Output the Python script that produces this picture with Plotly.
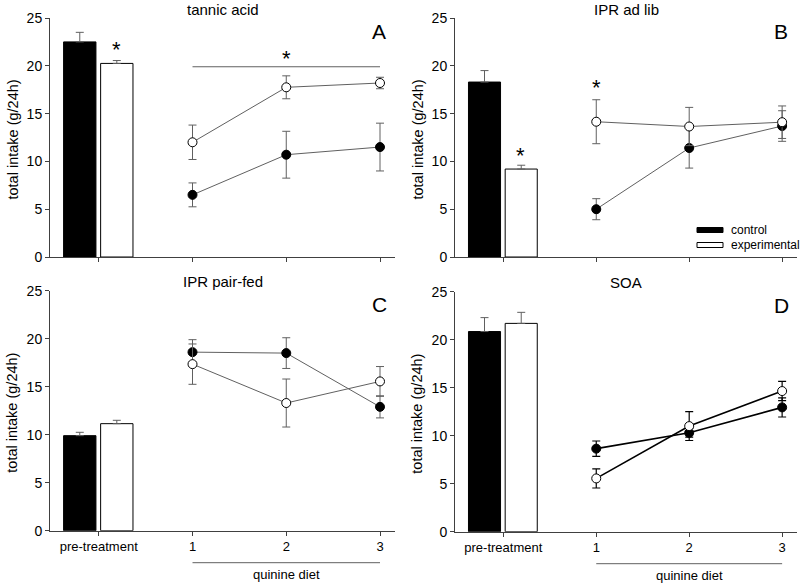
import plotly.graph_objects as go

# ---------------- data ----------------
tick_labels = ["pre-treatment", "1", "2", "3"]
tick_pos = [0, 1, 2, 3]
days = [1, 2, 3]

panel_titles = ["tannic acid", "IPR ad lib", "IPR pair-fed", "SOA"]
panel_letters = ["A", "B", "C", "D"]

# pre-treatment bars (mean, SEM)
ctrl_pre = [22.5, 18.3, 9.9, 20.85]
ctrl_pre_err = [1.0, 1.2, 0.35, 1.45]
exp_pre = [20.25, 9.2, 11.15, 21.7]
exp_pre_err = [0.3, 0.4, 0.35, 1.15]

# quinine diet days (mean, SEM)
ctrl_A = [6.5, 10.7, 11.5]
ctrl_A_err = [1.25, 2.45, 2.5]
exp_A = [12.0, 17.75, 18.2]
exp_A_err = [1.8, 1.2, 0.6]

ctrl_B = [5.0, 11.4, 13.7]
ctrl_B_err = [1.1, 2.1, 1.6]
exp_B = [14.15, 13.65, 14.1]
exp_B_err = [2.3, 2.0, 1.7]

ctrl_C = [18.6, 18.5, 12.9]
ctrl_C_err = [1.3, 1.6, 1.15]
exp_C = [17.35, 13.3, 15.55]
exp_C_err = [2.1, 2.5, 1.55]

ctrl_D = [8.65, 10.3, 12.95]
ctrl_D_err = [0.8, 0.45, 1.0]
exp_D = [5.55, 11.0, 14.65]
exp_D_err = [1.0, 1.5, 1.0]

ctrl_days = [ctrl_A, ctrl_B, ctrl_C, ctrl_D]
ctrl_days_err = [ctrl_A_err, ctrl_B_err, ctrl_C_err, ctrl_D_err]
exp_days = [exp_A, exp_B, exp_C, exp_D]
exp_days_err = [exp_A_err, exp_B_err, exp_C_err, exp_D_err]

# significance markers: (panel index, x, y)
sig_stars = [(0, 0.19, 21.97), (0, 2, 21.1), (1, 0.19, 10.9), (1, 1, 18.0)]
sig_line_A = (1, 3, 19.9)

# ---------------- layout geometry ----------------
W, H = 800, 583
FONT = "Liberation Sans, Arial, sans-serif"
AX = "#404040"
LINE_GREY = "#606060"

# pixel boxes: (x0, x1, ytop, ybottom)
boxes = [(50, 395, 18, 257), (455, 797, 18, 257),
         (50, 395, 290.7, 530.7), (455, 797, 291.7, 531.7)]

fig = go.Figure()

for i in range(4):
    xa = "x" if i == 0 else f"x{i+1}"
    ya = "y" if i == 0 else f"y{i+1}"
    line_col = "black" if i == 3 else LINE_GREY
    line_w = 1.6 if i == 3 else 1
    # bars
    fig.add_trace(go.Bar(x=[0], y=[ctrl_pre[i]], width=0.345, offset=-0.375,
                         marker=dict(color="black", line=dict(color="black", width=1)),
                         error_y=dict(type="data", array=[ctrl_pre_err[i]], arrayminus=[0],
                                      symmetric=False, color=LINE_GREY, thickness=1, width=4),
                         showlegend=False, xaxis=xa, yaxis=ya))
    fig.add_trace(go.Bar(x=[0], y=[exp_pre[i]], width=0.345, offset=0.02,
                         marker=dict(color="white", line=dict(color="black", width=1)),
                         error_y=dict(type="data", array=[exp_pre_err[i]], arrayminus=[0],
                                      symmetric=False, color=LINE_GREY, thickness=1, width=4),
                         showlegend=False, xaxis=xa, yaxis=ya))
    # lines
    fig.add_trace(go.Scatter(x=days, y=ctrl_days[i], mode="lines+markers",
                             line=dict(color=line_col, width=line_w),
                             marker=dict(symbol="circle", size=9, color="black",
                                         line=dict(color="black", width=1)),
                             error_y=dict(type="data", array=ctrl_days_err[i], color=line_col,
                                          thickness=1.2 if i == 3 else 1, width=4),
                             showlegend=False, xaxis=xa, yaxis=ya))
    fig.add_trace(go.Scatter(x=days, y=exp_days[i], mode="lines+markers",
                             line=dict(color=line_col, width=line_w),
                             marker=dict(symbol="circle", size=9, color="white",
                                         line=dict(color="black", width=1)),
                             error_y=dict(type="data", array=exp_days_err[i], color=line_col,
                                          thickness=1.2 if i == 3 else 1, width=4),
                             showlegend=False, xaxis=xa, yaxis=ya))

layout = dict(width=W, height=H, margin=dict(l=0, r=0, t=0, b=0, pad=0, autoexpand=False),
              paper_bgcolor="white", plot_bgcolor="white", template="none",
              font=dict(family=FONT, color="black", size=13),
              barmode="overlay", showlegend=False)

annotations = []
shapes = []
for i, (x0, x1, yt, yb) in enumerate(boxes):
    sfx = "" if i == 0 else str(i + 1)
    show_labels = i >= 2
    layout["xaxis" + sfx] = dict(domain=[x0 / W, x1 / W], range=[-0.52, 3.16],
                                 anchor="y" + sfx, showline=True, linecolor=AX, linewidth=1,
                                 showgrid=False, zeroline=False, ticks="outside",
                                 ticklen=4, tickcolor=AX, tickvals=tick_pos, automargin=False,
                                 ticktext=tick_labels if show_labels else ["", "", "", ""],
                                 tickfont=dict(size=13, family=FONT), fixedrange=True)
    layout["yaxis" + sfx] = dict(domain=[1 - yb / H, 1 - yt / H], range=[0, 25],
                                 anchor="x" + sfx, showline=True, linecolor=AX, linewidth=1,
                                 showgrid=False, zeroline=False, ticks="outside", automargin=False,
                                 ticklen=4, tickcolor=AX, tickvals=[0, 5, 10, 15, 20, 25],
                                 tickfont=dict(size=14, family=FONT), fixedrange=True)
    cx = (x0 + x1) / 2
    # panel title
    annotations.append(dict(text=panel_titles[i], x=cx / W, y=1 - (yt - 9) / H,
                            xref="paper", yref="paper", showarrow=False,
                            font=dict(size=15, family=FONT), xanchor="center", yanchor="middle"))
    # panel letter
    annotations.append(dict(text=panel_letters[i], x=(x1 - 16) / W, y=1 - (yt + 14) / H,
                            xref="paper", yref="paper", showarrow=False,
                            font=dict(size=21, family=FONT), xanchor="center", yanchor="middle"))
    # y title
    annotations.append(dict(text="total intake (g/24h)", x=(x0 - 38) / W,
                            y=1 - ((yt + yb) / 2 + 2) / H, xref="paper", yref="paper",
                            showarrow=False, textangle=-90,
                            font=dict(size=14.5, family=FONT), xanchor="center", yanchor="middle"))
    if show_labels:
        shapes.append(dict(type="line", xref="x" + sfx, yref="paper", x0=1, x1=3,
                           y0=1 - (yb + 32) / H, y1=1 - (yb + 32) / H,
                           line=dict(color=LINE_GREY, width=1)))
        annotations.append(dict(text="quinine diet", x=2, y=1 - (yb + 43.5) / H,
                                xref="x" + sfx, yref="paper", showarrow=False,
                                font=dict(size=13, family=FONT), xanchor="center", yanchor="middle"))

for (p, sx, sy) in sig_stars:
    sfx = "" if p == 0 else str(p + 1)
    annotations.append(dict(text="*", x=sx, y=sy, xref="x" + sfx, yref="y" + sfx,
                            showarrow=False, font=dict(size=22, family=FONT),
                            xanchor="center", yanchor="middle", yshift=-3))

shapes.append(dict(type="line", xref="x", yref="y", x0=sig_line_A[0], x1=sig_line_A[1],
                   y0=sig_line_A[2], y1=sig_line_A[2], line=dict(color=LINE_GREY, width=1)))

# legend (panel B)
leg_items = [("control", "black", 230), ("experimental", "white", 245)]
for name, col, py in leg_items:
    shapes.append(dict(type="rect", xref="paper", yref="paper",
                       x0=697 / W, x1=723 / W, y0=1 - (py + 2.5) / H, y1=1 - (py - 2.5) / H,
                       fillcolor=col, line=dict(color="black", width=1)))
    annotations.append(dict(text=name, x=729 / W, y=1 - py / H, xref="paper", yref="paper",
                            showarrow=False, font=dict(size=12, family=FONT),
                            xanchor="left", yanchor="middle"))

layout["annotations"] = annotations
layout["shapes"] = shapes
fig.update_layout(**layout)
fig.write_html("out.html", config={"displayModeBar": False},
               post_script="document.body.style.margin='0';document.body.style.padding='0';document.body.style.overflow='hidden';")
